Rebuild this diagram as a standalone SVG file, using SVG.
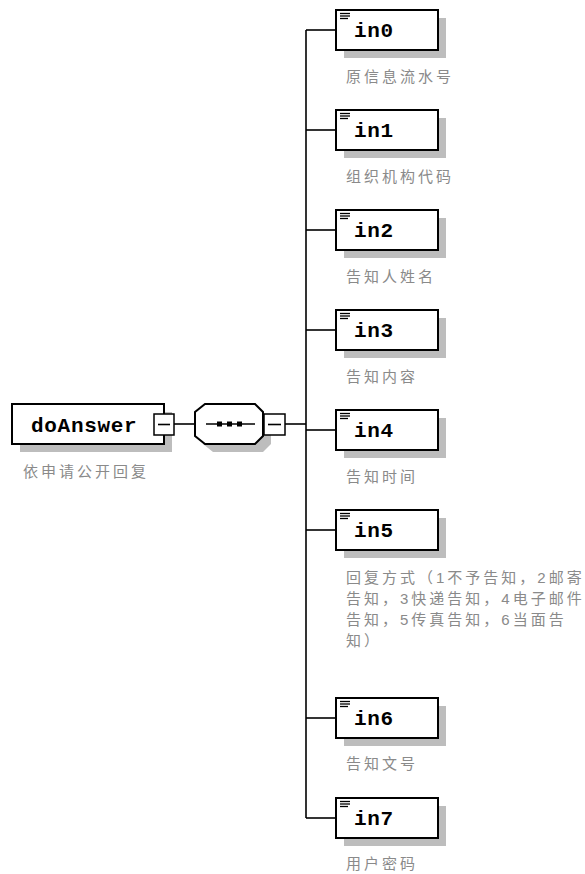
<svg xmlns="http://www.w3.org/2000/svg" width="585" height="874" viewBox="0 0 585 874">
<style>
.shadow{fill:#bdbdbd;stroke:none}
.box{fill:#fff;stroke:#000;stroke-width:2}
.name{font-family:"Liberation Mono",monospace;font-weight:bold;font-size:21px;letter-spacing:0.7px;fill:#000}
.desc{font-family:"Liberation Sans","Noto Sans CJK SC",sans-serif;font-size:15px;letter-spacing:3px;fill:#8a8a8a}
.ln{stroke:#000;stroke-width:1.6;fill:none}
.mb{fill:#fff;stroke:#000;stroke-width:1.5}
.icon{stroke:#000;stroke-width:1.3}
</style>
<defs>
<g id="elem">
<rect class="shadow" x="8" y="8" width="102" height="40"/>
<rect class="box" x="0" y="0" width="102" height="40"/>
<line class="icon" x1="4" y1="3.5" x2="14" y2="3.5"/>
<line class="icon" x1="4" y1="6" x2="14" y2="6"/>
<line class="icon" x1="4" y1="8.5" x2="12" y2="8.5"/>
</g>
</defs>
<rect width="585" height="874" fill="#fff"/>
<g id="connectors">
<line class="ln" x1="174" y1="424" x2="195" y2="424"/>
<line class="ln" x1="285" y1="424" x2="306" y2="424"/>
<line class="ln" x1="306" y1="30" x2="306" y2="818"/>
<line class="ln" x1="306" y1="30" x2="336" y2="30"/>
<line class="ln" x1="306" y1="130" x2="336" y2="130"/>
<line class="ln" x1="306" y1="230" x2="336" y2="230"/>
<line class="ln" x1="306" y1="330" x2="336" y2="330"/>
<line class="ln" x1="306" y1="430" x2="336" y2="430"/>
<line class="ln" x1="306" y1="530" x2="336" y2="530"/>
<line class="ln" x1="306" y1="718" x2="336" y2="718"/>
<line class="ln" x1="306" y1="818" x2="336" y2="818"/>
</g>
<g id="doAnswer">
<rect class="shadow" x="20" y="412" width="152" height="40"/>
<rect class="box" x="12" y="404" width="152" height="40"/>
<text class="name" x="31" y="432">doAnswer</text>
<rect class="mb" x="154" y="414" width="20" height="21"/>
<line class="ln" x1="158" y1="424.5" x2="170" y2="424.5"/>
<text class="desc" x="23" y="477">依申请公开回复</text>
</g>
<g id="sequence">
<polygon class="shadow" points="213,412 263,412 271,420 271,444 263,452 213,452 203,444 203,420"/>
<polygon class="box" points="205,404 255,404 263,412 263,436 255,444 205,444 195,436 195,412"/>
<line class="ln" x1="206" y1="424" x2="255" y2="424"/>
<rect x="217" y="421.5" width="5" height="5" fill="#000"/>
<rect x="227" y="421.5" width="5" height="5" fill="#000"/>
<rect x="237" y="421.5" width="5" height="5" fill="#000"/>
<rect class="mb" x="264" y="414" width="21" height="21"/>
<line class="ln" x1="268" y1="424.5" x2="281" y2="424.5"/>
</g>
<g id="in0"><use href="#elem" x="336" y="10"/><text class="name" x="354" y="37">in0</text><text class="desc" x="346" y="82">原信息流水号</text></g>
<g id="in1"><use href="#elem" x="336" y="110"/><text class="name" x="354" y="137">in1</text><text class="desc" x="346" y="182">组织机构代码</text></g>
<g id="in2"><use href="#elem" x="336" y="210"/><text class="name" x="354" y="237">in2</text><text class="desc" x="346" y="282">告知人姓名</text></g>
<g id="in3"><use href="#elem" x="336" y="310"/><text class="name" x="354" y="337">in3</text><text class="desc" x="346" y="382">告知内容</text></g>
<g id="in4"><use href="#elem" x="336" y="410"/><text class="name" x="354" y="437">in4</text><text class="desc" x="346" y="482">告知时间</text></g>
<g id="in5"><use href="#elem" x="336" y="510"/><text class="name" x="354" y="537">in5</text>
<text class="desc"><tspan x="346" y="583">回复方式（1不予告知，2邮寄</tspan><tspan x="346" y="604">告知，3快递告知，4电子邮件</tspan><tspan x="346" y="625">告知，5传真告知，6当面告</tspan><tspan x="346" y="646">知）</tspan></text></g>
<g id="in6"><use href="#elem" x="336" y="698"/><text class="name" x="354" y="725">in6</text><text class="desc" x="346" y="769">告知文号</text></g>
<g id="in7"><use href="#elem" x="336" y="798"/><text class="name" x="354" y="825">in7</text><text class="desc" x="346" y="869">用户密码</text></g>
</svg>
